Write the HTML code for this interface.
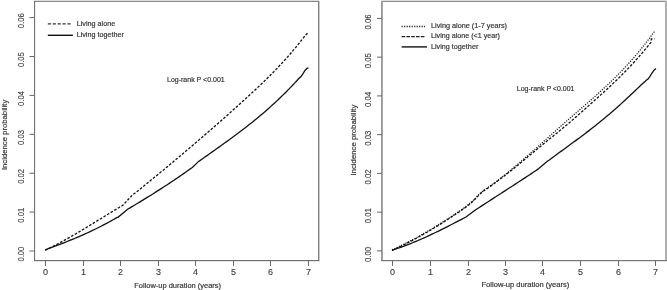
<!DOCTYPE html>
<html><head><meta charset="utf-8"><style>
html,body{margin:0;padding:0;background:#fff;width:667px;height:290px;overflow:hidden}
svg{display:block;will-change:transform}
text{font-family:"Liberation Sans", sans-serif;}
.tk{font-size:9px;fill:#3a3a3a;stroke:#3a3a3a;stroke-width:0.12px}
.lg{font-size:7.2px;fill:#333;stroke:#333;stroke-width:0.18px}
.at{font-size:6.6px;fill:#333}
</style></head><body>
<svg width="667" height="290" viewBox="0 0 667 290">
<rect x="34" y="0" width="285" height="1" fill="#dedede"/>
<rect x="34" y="1" width="285" height="1" fill="#888"/>
<rect x="34" y="1" width="1" height="260" fill="#707070"/>
<rect x="35" y="2" width="1" height="258" fill="#f0f0f0"/>
<rect x="318" y="1" width="1" height="260" fill="#808080"/>
<rect x="319" y="1" width="1" height="261" fill="#cacaca"/>
<rect x="34" y="260" width="285" height="1" fill="#707070"/>
<rect x="34" y="261" width="286" height="1" fill="#e4e4e4"/>
<rect x="45" y="261" width="1" height="5" fill="#6a6a6a"/>
<text x="45.5" y="274.8" text-anchor="middle" class="tk">0</text>
<rect x="83" y="261" width="1" height="5" fill="#6a6a6a"/>
<text x="83.5" y="274.8" text-anchor="middle" class="tk">1</text>
<rect x="120" y="261" width="1" height="5" fill="#6a6a6a"/>
<text x="120.5" y="274.8" text-anchor="middle" class="tk">2</text>
<rect x="158" y="261" width="1" height="5" fill="#6a6a6a"/>
<text x="158.5" y="274.8" text-anchor="middle" class="tk">3</text>
<rect x="195" y="261" width="1" height="5" fill="#6a6a6a"/>
<text x="195.5" y="274.8" text-anchor="middle" class="tk">4</text>
<rect x="233" y="261" width="1" height="5" fill="#6a6a6a"/>
<text x="233.5" y="274.8" text-anchor="middle" class="tk">5</text>
<rect x="270" y="261" width="1" height="5" fill="#6a6a6a"/>
<text x="270.5" y="274.8" text-anchor="middle" class="tk">6</text>
<rect x="308" y="261" width="1" height="5" fill="#6a6a6a"/>
<text x="308.5" y="274.8" text-anchor="middle" class="tk">7</text>
<line x1="29.5" y1="251" x2="34.5" y2="251" stroke="#666" stroke-width="1"/>
<text transform="translate(23.8,261.6) rotate(-90)" x="0" y="0" textLength="14.9" lengthAdjust="spacingAndGlyphs" class="tk">0.00</text>
<line x1="29.5" y1="212.1" x2="34.5" y2="212.1" stroke="#666" stroke-width="1"/>
<text transform="translate(23.8,222.7) rotate(-90)" x="0" y="0" textLength="14.9" lengthAdjust="spacingAndGlyphs" class="tk">0.01</text>
<line x1="29.5" y1="173.2" x2="34.5" y2="173.2" stroke="#666" stroke-width="1"/>
<text transform="translate(23.8,183.8) rotate(-90)" x="0" y="0" textLength="14.9" lengthAdjust="spacingAndGlyphs" class="tk">0.02</text>
<line x1="29.5" y1="134.3" x2="34.5" y2="134.3" stroke="#666" stroke-width="1"/>
<text transform="translate(23.8,144.9) rotate(-90)" x="0" y="0" textLength="14.9" lengthAdjust="spacingAndGlyphs" class="tk">0.03</text>
<line x1="29.5" y1="95.4" x2="34.5" y2="95.4" stroke="#666" stroke-width="1"/>
<text transform="translate(23.8,106) rotate(-90)" x="0" y="0" textLength="14.9" lengthAdjust="spacingAndGlyphs" class="tk">0.04</text>
<line x1="29.5" y1="56.5" x2="34.5" y2="56.5" stroke="#666" stroke-width="1"/>
<text transform="translate(23.8,67.1) rotate(-90)" x="0" y="0" textLength="14.9" lengthAdjust="spacingAndGlyphs" class="tk">0.05</text>
<line x1="29.5" y1="17.6" x2="34.5" y2="17.6" stroke="#666" stroke-width="1"/>
<text transform="translate(23.8,28.2) rotate(-90)" x="0" y="0" textLength="14.9" lengthAdjust="spacingAndGlyphs" class="tk">0.06</text>
<rect x="381" y="0" width="286" height="1" fill="#dedede"/>
<rect x="381" y="1" width="286" height="1" fill="#888"/>
<rect x="381" y="1" width="1" height="260" fill="#999"/>
<rect x="382" y="1" width="1" height="260" fill="#a8a8a8"/>
<rect x="665" y="1" width="2" height="261" fill="#b0b0b0"/>
<rect x="381" y="260" width="286" height="1" fill="#777"/>
<rect x="381" y="261" width="286" height="1" fill="#e2e2e2"/>
<rect x="392" y="261" width="1" height="5" fill="#6a6a6a"/>
<text x="392.5" y="274.8" text-anchor="middle" class="tk">0</text>
<rect x="430" y="261" width="1" height="5" fill="#6a6a6a"/>
<text x="430.5" y="274.8" text-anchor="middle" class="tk">1</text>
<rect x="468" y="261" width="1" height="5" fill="#6a6a6a"/>
<text x="468.5" y="274.8" text-anchor="middle" class="tk">2</text>
<rect x="505" y="261" width="1" height="5" fill="#6a6a6a"/>
<text x="505.5" y="274.8" text-anchor="middle" class="tk">3</text>
<rect x="542" y="261" width="1" height="5" fill="#6a6a6a"/>
<text x="542.5" y="274.8" text-anchor="middle" class="tk">4</text>
<rect x="580" y="261" width="1" height="5" fill="#6a6a6a"/>
<text x="580.5" y="274.8" text-anchor="middle" class="tk">5</text>
<rect x="618" y="261" width="1" height="5" fill="#6a6a6a"/>
<text x="618.5" y="274.8" text-anchor="middle" class="tk">6</text>
<rect x="655" y="261" width="1" height="5" fill="#6a6a6a"/>
<text x="655.5" y="274.8" text-anchor="middle" class="tk">7</text>
<line x1="377" y1="250.9" x2="382" y2="250.9" stroke="#666" stroke-width="1"/>
<text transform="translate(370.7,262.05) rotate(-90)" x="0" y="0" textLength="15.3" lengthAdjust="spacingAndGlyphs" class="tk">0.00</text>
<line x1="377" y1="212.15" x2="382" y2="212.15" stroke="#666" stroke-width="1"/>
<text transform="translate(370.7,223.3) rotate(-90)" x="0" y="0" textLength="15.3" lengthAdjust="spacingAndGlyphs" class="tk">0.01</text>
<line x1="377" y1="173.4" x2="382" y2="173.4" stroke="#666" stroke-width="1"/>
<text transform="translate(370.7,184.55) rotate(-90)" x="0" y="0" textLength="15.3" lengthAdjust="spacingAndGlyphs" class="tk">0.02</text>
<line x1="377" y1="134.65" x2="382" y2="134.65" stroke="#666" stroke-width="1"/>
<text transform="translate(370.7,145.8) rotate(-90)" x="0" y="0" textLength="15.3" lengthAdjust="spacingAndGlyphs" class="tk">0.03</text>
<line x1="377" y1="95.9" x2="382" y2="95.9" stroke="#666" stroke-width="1"/>
<text transform="translate(370.7,107.05) rotate(-90)" x="0" y="0" textLength="15.3" lengthAdjust="spacingAndGlyphs" class="tk">0.04</text>
<line x1="377" y1="57.15" x2="382" y2="57.15" stroke="#666" stroke-width="1"/>
<text transform="translate(370.7,68.3) rotate(-90)" x="0" y="0" textLength="15.3" lengthAdjust="spacingAndGlyphs" class="tk">0.05</text>
<line x1="377" y1="18.4" x2="382" y2="18.4" stroke="#666" stroke-width="1"/>
<text transform="translate(370.7,29.55) rotate(-90)" x="0" y="0" textLength="15.3" lengthAdjust="spacingAndGlyphs" class="tk">0.06</text>
<path d="M45.1,250.2 L47.1,249.21 L49.1,248.25 L51.1,247.27 L53.1,246.27 L55.1,245.25 L57.1,244.21 L59.1,243.16 L61.1,242.09 L63.1,241 L65.1,239.9 L67.1,238.78 L69.1,237.65 L71.1,236.51 L73.1,235.36 L75.1,234.2 L77.1,233.02 L79.1,231.84 L81.1,230.65 L83.1,229.45 L85.1,228.25 L87.1,227.04 L89.1,225.82 L91.1,224.6 L93.1,223.38 L95.1,222.15 L97.1,220.92 L99.1,219.69 L101.1,218.46 L103.1,217.23 L105.1,216 L107.1,214.78 L109.1,213.55 L111.1,212.33 L113.1,211.12 L115.1,209.9 L117.1,208.7 L119.1,207.5 L121.1,206.31 L122.4,205.6 L132.8,194.7 L134.8,193.32 L136.8,191.7 L138.8,190.08 L140.8,188.46 L142.8,186.84 L144.8,185.22 L146.8,183.59 L148.8,181.96 L150.8,180.32 L152.8,178.69 L154.8,177.05 L156.8,175.41 L158.8,173.76 L160.8,172.11 L162.8,170.46 L164.8,168.8 L166.8,167.15 L168.8,165.48 L170.8,163.82 L172.8,162.15 L174.8,160.48 L176.8,158.8 L178.8,157.12 L180.8,155.44 L182.8,153.75 L184.8,152.06 L186.8,150.37 L188.8,148.67 L190.8,146.97 L192.8,145.27 L194.8,143.56 L196.8,141.85 L198.8,140.13 L200.8,138.41 L202.8,136.68 L204.8,134.95 L206.8,133.22 L208.8,131.48 L210.8,129.74 L212.8,128 L214.8,126.25 L216.8,124.49 L218.8,122.73 L220.8,120.97 L222.8,119.2 L224.8,117.43 L226.8,115.65 L228.8,113.87 L230.8,112.08 L232.8,110.29 L234.8,108.49 L236.8,106.69 L238.8,104.89 L240.8,103.08 L242.8,101.26 L244.8,99.44 L246.8,97.61 L248.8,95.78 L250.8,93.94 L252.8,92.09 L254.8,90.23 L256.8,88.36 L258.8,86.47 L260.8,84.57 L262.8,82.65 L264.8,80.72 L266.8,78.76 L268.8,76.79 L270.8,74.79 L272.8,72.76 L274.8,70.72 L276.8,68.64 L278.8,66.54 L280.8,64.41 L282.8,62.25 L284.8,60.05 L286.8,57.82 L288.8,55.55 L290.8,53.25 L292.8,50.91 L294.8,48.53 L296.8,46.11 L298.8,43.65 L300.8,41.14 L302.8,38.59 L304.8,35.98 L305.9,34.7 L308.5,32.4" fill="none" stroke="#111" stroke-width="1.3" stroke-dasharray="2.6,1.6"/>
<path d="M45.1,250.2 L47.1,249.08 L49.1,248.35 L51.1,247.63 L53.1,246.89 L55.1,246.15 L57.1,245.4 L59.1,244.64 L61.1,243.87 L63.1,243.1 L65.1,242.31 L67.1,241.52 L69.1,240.72 L71.1,239.91 L73.1,239.08 L75.1,238.25 L77.1,237.4 L79.1,236.54 L81.1,235.67 L83.1,234.79 L85.1,233.9 L87.1,232.99 L89.1,232.06 L91.1,231.13 L93.1,230.18 L95.1,229.21 L97.1,228.23 L99.1,227.23 L101.1,226.22 L103.1,225.19 L105.1,224.14 L107.1,223.08 L109.1,221.99 L111.1,220.89 L113.1,219.78 L115.1,218.64 L117.1,217.48 L118,217.3 L127.6,209.3 L129.6,208.08 L131.6,206.89 L133.6,205.69 L135.6,204.49 L137.6,203.29 L139.6,202.08 L141.6,200.86 L143.6,199.64 L145.6,198.41 L147.6,197.17 L149.6,195.93 L151.6,194.69 L153.6,193.43 L155.6,192.17 L157.6,190.9 L159.6,189.62 L161.6,188.34 L163.6,187.05 L165.6,185.75 L167.6,184.44 L169.6,183.12 L171.6,181.79 L173.6,180.45 L175.6,179.11 L177.6,177.75 L179.6,176.38 L181.6,175.01 L183.6,173.62 L185.6,172.22 L187.6,170.81 L189.6,169.39 L191.6,167.96 L192.6,167.3 L198.6,161.4 L200.6,160.14 L202.6,158.71 L204.6,157.3 L206.6,155.88 L208.6,154.46 L210.6,153.05 L212.6,151.63 L214.6,150.21 L216.6,148.79 L218.6,147.36 L220.6,145.94 L222.6,144.5 L224.6,143.06 L226.6,141.62 L228.6,140.17 L230.6,138.71 L232.6,137.24 L234.6,135.76 L236.6,134.27 L238.6,132.78 L240.6,131.26 L242.6,129.74 L244.6,128.2 L246.6,126.65 L248.6,125.09 L250.6,123.51 L252.6,121.91 L254.6,120.29 L256.6,118.66 L258.6,117 L260.6,115.33 L262.6,113.64 L264.6,111.92 L266.6,110.19 L268.6,108.43 L270.6,106.64 L272.6,104.84 L274.6,103 L276.6,101.14 L278.6,99.26 L280.6,97.34 L282.6,95.4 L284.6,93.43 L286.6,91.43 L288.6,89.4 L290.6,87.33 L292.6,85.24 L294.6,83.11 L296.6,80.94 L298.6,78.75 L299,78.3 L301,76.54 L303,73.58 L305,70.45 L307,68.25 L308.5,67.9" fill="none" stroke="#111" stroke-width="1.3"/>
<path d="M392,249.7 L394,248.91 L396,247.99 L398,247.04 L400,246.09 L402,245.11 L404,244.12 L406,243.11 L408,242.09 L410,241.05 L412,240 L414,238.93 L416,237.85 L418,236.75 L420,235.63 L422,234.51 L424,233.37 L426,232.21 L428,231.04 L430,229.86 L432,228.66 L434,227.45 L436,226.23 L438,225 L440,223.75 L442,222.49 L444,221.22 L446,219.94 L448,218.64 L450,217.34 L452,216.02 L454,214.69 L456,213.36 L458,212.01 L460,210.65 L462,209.28 L464,207.9 L466,206.51 L467,205.6 L473,200.7 L479.4,193.9 L485,189.3 L487,188.2 L489,186.79 L491,185.35 L493,183.88 L495,182.4 L497,180.89 L499,179.36 L501,177.81 L503,176.24 L505,174.65 L507,173.05 L509,171.42 L511,169.78 L513,168.13 L515,166.46 L517,164.78 L519,163.08 L521,161.38 L523,159.66 L525,157.93 L527,156.19 L529,154.45 L531,152.69 L533,150.93 L535,149.17 L537,147.39 L539,145.62 L541,143.84 L543,142.05 L545,140.27 L547,138.48 L549,136.69 L551,134.91 L553,133.12 L555,131.34 L557,129.56 L559,127.78 L561,126.01 L563,124.25 L565,122.49 L567,120.74 L569,118.99 L571,117.25 L573,115.52 L575,113.79 L577,112.06 L579,110.34 L581,108.61 L583,106.88 L585,105.14 L587,103.4 L589,101.66 L591,99.9 L593,98.14 L595,96.37 L597,94.58 L599,92.78 L601,90.96 L603,89.12 L605,87.27 L607,85.4 L609,83.5 L611,81.59 L613,79.64 L615,77.68 L617,75.68 L619,73.65 L621,71.6 L623,69.51 L625,67.39 L627,65.24 L629,63.05 L631,60.82 L633,58.55 L635,56.24 L637,53.89 L639,51.5 L641,49.06 L643,46.57 L645,44.03 L647,41.45 L649,38.81 L651,36.13 L653,33.39 L654.5,31.4" fill="none" stroke="#1a1a1a" stroke-width="1.2" stroke-dasharray="1.2,1.3"/>
<path d="M392,250.3 L394,249.51 L396,248.59 L398,247.64 L400,246.69 L402,245.71 L404,244.72 L406,243.71 L408,242.69 L410,241.65 L412,240.6 L414,239.53 L416,238.45 L418,237.35 L420,236.23 L422,235.11 L424,233.97 L426,232.81 L428,231.64 L430,230.46 L432,229.26 L434,228.05 L436,226.83 L438,225.6 L440,224.35 L442,223.09 L444,221.82 L446,220.54 L448,219.24 L450,217.94 L452,216.62 L454,215.29 L456,213.96 L458,212.61 L460,211.25 L462,209.88 L464,208.5 L466,207.11 L467,206.2 L473,201.3 L479.4,194.5 L485,189.9 L487,188.63 L489,187.27 L491,185.87 L493,184.45 L495,183.01 L497,181.53 L499,180.04 L501,178.52 L503,176.99 L505,175.44 L507,173.86 L509,172.28 L511,170.68 L513,169.06 L515,167.44 L517,165.8 L519,164.16 L521,162.51 L523,160.85 L525,159.2 L527,157.53 L529,155.87 L531,154.21 L533,152.54 L535,150.89 L537,149.23 L539,147.58 L541,145.94 L543,144.31 L545,142.69 L547,141.07 L549,139.46 L551,137.85 L553,136.23 L555,134.62 L557,133 L559,131.37 L561,129.73 L563,128.08 L565,126.42 L567,124.74 L569,123.04 L571,121.32 L573,119.59 L575,117.85 L577,116.09 L579,114.32 L581,112.55 L583,110.76 L585,108.98 L587,107.18 L589,105.39 L591,103.6 L593,101.81 L595,100.02 L597,98.23 L599,96.43 L601,94.63 L603,92.82 L605,91.01 L607,89.18 L609,87.33 L611,85.47 L613,83.59 L615,81.68 L617,79.75 L619,77.8 L621,75.81 L623,73.8 L625,71.76 L627,69.7 L629,67.6 L631,65.47 L633,63.3 L635,61.11 L637,58.88 L639,56.62 L641,54.32 L643,51.99 L645,49.62 L647,47.22 L649,44.78 L650.9,42.5 L651.4,38.9 L654.5,38.9" fill="none" stroke="#111" stroke-width="1.3" stroke-dasharray="2.6,1.6"/>
<path d="M392,250.3 L394,249.56 L396,248.91 L398,248.24 L400,247.55 L402,246.84 L404,246.11 L406,245.36 L408,244.59 L410,243.81 L412,243.01 L414,242.19 L416,241.36 L418,240.51 L420,239.65 L422,238.77 L424,237.88 L426,236.97 L428,236.06 L430,235.13 L432,234.19 L434,233.23 L436,232.27 L438,231.3 L440,230.32 L442,229.33 L444,228.33 L446,227.32 L448,226.31 L450,225.29 L452,224.27 L454,223.23 L456,222.2 L458,221.16 L460,220.11 L462,219.06 L464,218.01 L466,217 L475.3,210 L477.3,208.75 L479.3,207.45 L481.3,206.14 L483.3,204.84 L485.3,203.54 L487.3,202.24 L489.3,200.95 L491.3,199.65 L493.3,198.36 L495.3,197.07 L497.3,195.78 L499.3,194.48 L501.3,193.19 L503.3,191.9 L505.3,190.61 L507.3,189.32 L509.3,188.02 L511.3,186.73 L513.3,185.43 L515.3,184.13 L517.3,182.83 L519.3,181.53 L521.3,180.22 L523.3,178.91 L525.3,177.6 L527.3,176.28 L529.3,174.96 L531.3,173.63 L533.3,172.3 L535.3,170.96 L537.3,169.62 L538.8,168.6 L547.3,161.3 L549.3,159.95 L551.3,158.46 L553.3,156.98 L555.3,155.5 L557.3,154.03 L559.3,152.57 L561.3,151.11 L563.3,149.65 L565.3,148.19 L567.3,146.73 L569.3,145.27 L571.3,143.81 L573.3,142.34 L575.3,140.87 L577.3,139.39 L579.3,137.91 L581.3,136.42 L583.3,134.92 L585.3,133.41 L587.3,131.89 L589.3,130.36 L591.3,128.82 L593.3,127.26 L595.3,125.68 L597.3,124.09 L599.3,122.48 L601.3,120.85 L603.3,119.21 L605.3,117.55 L607.3,115.87 L609.3,114.17 L611.3,112.45 L613.3,110.72 L615.3,108.97 L617.3,107.2 L619.3,105.42 L621.3,103.61 L623.3,101.79 L625.3,99.95 L627.3,98.1 L629.3,96.23 L631.3,94.34 L633.3,92.43 L635.3,90.52 L637.3,88.61 L639.3,86.71 L641.3,84.83 L643.3,82.98 L645.3,81.17 L646,80.4 L648,79.09 L650,76.33 L652,73.03 L654,70.12 L656,68.6" fill="none" stroke="#111" stroke-width="1.3"/>
<line x1="47.8" y1="23.9" x2="70.8" y2="23.9" stroke="#333" stroke-width="1.35" stroke-dasharray="3.2,1.7"/>
<line x1="47.8" y1="35.3" x2="72.9" y2="35.3" stroke="#111" stroke-width="1.4"/>
<text x="76.7" y="25.9" textLength="38.5" lengthAdjust="spacingAndGlyphs" class="lg">Living alone</text>
<text x="76.7" y="37.1" textLength="47.1" lengthAdjust="spacingAndGlyphs" class="lg">Living together</text>
<text x="167" y="82" textLength="57.7" lengthAdjust="spacingAndGlyphs" class="lg">Log-rank P &lt;0.001</text>
<line x1="401.6" y1="26.5" x2="425" y2="26.5" stroke="#222" stroke-width="1.3" stroke-dasharray="1.2,1.3"/>
<line x1="401.6" y1="36.6" x2="424.6" y2="36.6" stroke="#222" stroke-width="1.4" stroke-dasharray="3.6,1.2"/>
<line x1="401.6" y1="46.9" x2="427" y2="46.9" stroke="#111" stroke-width="1.4"/>
<text x="431" y="28" textLength="76" lengthAdjust="spacingAndGlyphs" class="lg">Living alone (1-7 years)</text>
<text x="431" y="38.3" textLength="69" lengthAdjust="spacingAndGlyphs" class="lg">Living alone (&lt;1 year)</text>
<text x="431" y="48.6" textLength="47.3" lengthAdjust="spacingAndGlyphs" class="lg">Living together</text>
<text x="516.8" y="91" textLength="57.7" lengthAdjust="spacingAndGlyphs" class="lg">Log-rank P &lt;0.001</text>
<text x="134.3" y="287.7" textLength="86.7" lengthAdjust="spacingAndGlyphs" class="lg">Follow-up duration (years)</text>
<text x="481.5" y="287.4" textLength="87.8" lengthAdjust="spacingAndGlyphs" class="lg">Follow-up duration (years)</text>
<text transform="translate(7.2,170.1) rotate(-90)" x="0" y="0" textLength="70.4" lengthAdjust="spacingAndGlyphs" class="lg">Incidence probability</text>
<text transform="translate(355.8,175.5) rotate(-90)" x="0" y="0" textLength="70.8" lengthAdjust="spacingAndGlyphs" class="lg">Incidence probability</text>
</svg>
</body></html>
